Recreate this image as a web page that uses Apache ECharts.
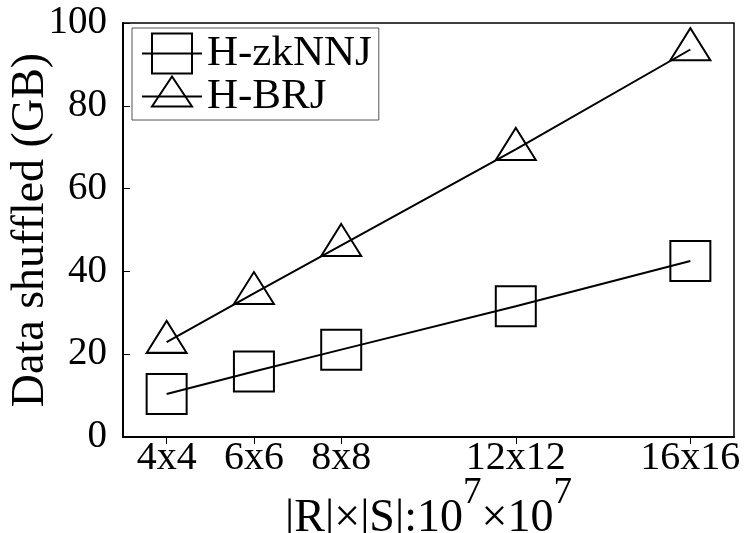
<!DOCTYPE html>
<html>
<head>
<meta charset="utf-8">
<script src="https://cdn.jsdelivr.net/npm/echarts@6/dist/echarts.min.js"></script>
<style>
  html, body { margin: 0; padding: 0; background: #fff; }
  #chart { width: 746px; height: 533px; }
</style>
</head>
<body>
<div id="chart"></div>
<script>
// Relation sizes (|R| = |S|, in units of 10^7 tuples)
const sizes = [4, 6, 8, 12, 16];
const sizeLabels = ['4x4', '6x6', '8x8', '12x12', '16x16'];
// Shuffled data volume in GB
const zkNNJ = [10.4, 15.8, 21.1, 31.6, 42.5];
const brj = [22.9, 34.7, 46.3, 69.5, 93.6];
const yTicks = [0, 20, 40, 60, 80, 100];

const FONT = 'Liberation Serif';
// Open triangle whose bounding box is centred on its centroid
const TRIANGLE = 'path://M20,0L40,32L0,32Z M20,42.67';

const labelOf = {};
sizes.forEach((s, i) => { labelOf[s] = sizeLabels[i]; });

const chart = echarts.init(document.getElementById('chart'), null, { renderer: 'canvas' });

chart.setOption({
  backgroundColor: '#fff',
  animation: false,
  grid: {
    left: 123, right: 12, top: 23, bottom: 96,
    outerBoundsMode: 'none', containLabel: false,
    show: true, borderColor: '#000', borderWidth: 1.5, backgroundColor: 'transparent'
  },
  legend: {
    left: 132, top: 28,
    orient: 'vertical',
    itemWidth: 60, itemHeight: 50, itemGap: 0,
    padding: [4, 7, 2, 9],
    borderColor: '#555', borderWidth: 1,
    textStyle: { fontFamily: FONT, fontSize: 43, color: '#000' },
    data: ['H-zkNNJ', 'H-BRJ']
  },
  xAxis: {
    type: 'value', min: 3, max: 17, interval: 1,
    splitLine: { show: false },
    axisLine: { lineStyle: { color: '#000', width: 2 } },
    axisTick: { inside: false, length: 7, customValues: sizes, lineStyle: { color: '#000', width: 1 } },
    axisLabel: {
      customValues: sizes, margin: 1,
      fontFamily: FONT, fontSize: 40, color: '#000',
      formatter: v => labelOf[v] || ''
    },
    name: '{a||R|×|S|:10}{sup|7}{a|×10}{sup|7}',
    nameLocation: 'middle', nameGap: 38, nameMoveOverlap: false,
    nameTextStyle: {
      fontFamily: FONT, fontSize: 46, color: '#000',
      rich: {
        a: { fontFamily: FONT, fontSize: 46, color: '#000', verticalAlign: 'bottom' },
        sup: { fontFamily: FONT, fontSize: 37, color: '#000', padding: [0, 0, 30, 0], verticalAlign: 'bottom' }
      }
    }
  },
  yAxis: {
    type: 'value', min: 0, max: 100, interval: 20,
    splitLine: { show: false },
    axisLine: { lineStyle: { color: '#000', width: 2 } },
    axisTick: { inside: true, length: 7, lineStyle: { color: '#000', width: 1 } },
    axisLabel: {
      margin: 16, fontFamily: FONT, fontSize: 39, color: '#000',
      formatter: v => (yTicks.indexOf(v) >= 0 ? String(v) : '')
    },
    name: 'Data shuffled (GB)',
    nameLocation: 'middle', nameRotate: 90, nameGap: 69, nameMoveOverlap: false,
    nameTextStyle: { fontFamily: FONT, fontSize: 46, color: '#000' }
  },
  series: [
    {
      name: 'H-zkNNJ', type: 'line',
      data: sizes.map((s, i) => [s, zkNNJ[i]]),
      symbol: 'rect', symbolSize: 40,
      lineStyle: { color: '#000', width: 2 },
      itemStyle: { color: 'rgba(0,0,0,0)', borderColor: '#000', borderWidth: 2 },
      emphasis: { disabled: true }
    },
    {
      name: 'H-BRJ', type: 'line',
      data: sizes.map((s, i) => [s, brj[i]]),
      symbol: TRIANGLE, symbolSize: [40, 42.67],
      lineStyle: { color: '#000', width: 2 },
      itemStyle: { color: 'rgba(0,0,0,0)', borderColor: '#000', borderWidth: 2 },
      emphasis: { disabled: true }
    }
  ]
});
</script>
</body>
</html>
